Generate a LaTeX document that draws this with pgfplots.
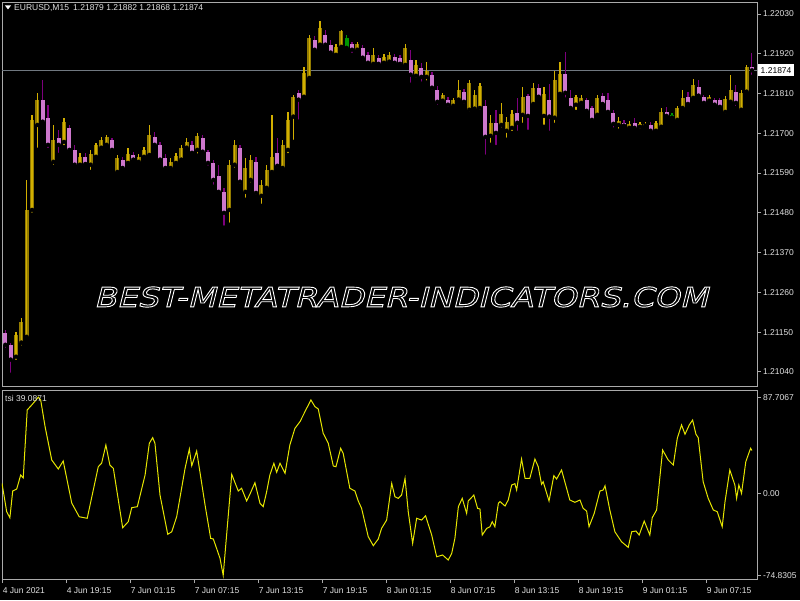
\documentclass[border=0pt]{standalone}
\usepackage{pgfplots}
\pgfplotsset{compat=1.18}
\usepackage{pgfplotstable}
\usepackage{fontspec}
\setmainfont{Liberation Sans}
\newfontfamily\wmfont[FakeSlant=0.25,FakeStretch=1.22]{DejaVu Sans}
\definecolor{framegray}{RGB}{170,170,170}
\definecolor{pricegray}{RGB}{112,120,128}
\definecolor{lblcolor}{RGB}{225,225,225}
\definecolor{bullbody}{RGB}{148,124,0}
\definecolor{bullwick}{RGB}{210,175,0}
\definecolor{bearbody}{RGB}{205,120,205}
\definecolor{bearwick}{RGB}{125,0,125}
\definecolor{greenc}{RGB}{0,150,0}
\definecolor{tsiyellow}{RGB}{230,230,0}
\newcommand\lbl{\fontsize{8.5}{10}\selectfont}

\pgfplotstableread{
x lo hi bl bh
5 1.21068 1.21151 1.21082 1.21143
7 1.21107 1.21190 1.21121 1.21179
9 1.21129 1.21571 1.21137 1.21488
11 1.21475 1.21751 1.21488 1.21737
13 1.21654 1.21812 1.21723 1.21793
19 1.21607 1.21723 1.21621 1.21682
23 1.21662 1.21743 1.21676 1.21732
29 1.21605 1.21646 1.21613 1.21635
33 1.21593 1.21654 1.21613 1.21643
35 1.21627 1.21674 1.21635 1.21668
37 1.21649 1.21690 1.21660 1.21682
39 1.21660 1.21696 1.21668 1.21690
43 1.21585 1.21640 1.21593 1.21632
47 1.21610 1.21660 1.21618 1.21643
51 1.21613 1.21643 1.21621 1.21635
53 1.21627 1.21662 1.21635 1.21654
55 1.21632 1.21723 1.21640 1.21696
63 1.21599 1.21632 1.21604 1.21621
65 1.21610 1.21646 1.21618 1.21638
67 1.21618 1.21668 1.21627 1.21660
69 1.21651 1.21687 1.21660 1.21676
73 1.21638 1.21701 1.21654 1.21693
85 1.21447 1.21627 1.21488 1.21613
87 1.21599 1.21682 1.21613 1.21668
91 1.21516 1.21632 1.21538 1.21604
93 1.21558 1.21640 1.21571 1.21627
97 1.21499 1.21571 1.21527 1.21558
99 1.21538 1.21613 1.21549 1.21599
101 1.21585 1.21751 1.21593 1.21635
105 1.21593 1.21682 1.21604 1.21668
107 1.21640 1.21759 1.21654 1.21737
109 1.21676 1.21806 1.21746 1.21801
113 1.21793 1.21884 1.21801 1.21867
115 1.21842 1.21972 1.21853 1.21964
119 1.21936 1.22011 1.21945 1.21992
125 1.21909 1.21947 1.21917 1.21939
127 1.21931 1.21986 1.21939 1.21983
133 1.21923 1.21953 1.21931 1.21947
139 1.21884 1.21936 1.21892 1.21917
143 1.21889 1.21920 1.21895 1.21911
145 1.21892 1.21925 1.21898 1.21917
151 1.21884 1.21947 1.21889 1.21936
155 1.21848 1.21903 1.21859 1.21889
159 1.21840 1.21898 1.21856 1.21873
165 1.21781 1.21812 1.21790 1.21806
169 1.21770 1.21798 1.21776 1.21793
171 1.21784 1.21848 1.21793 1.21820
175 1.21754 1.21848 1.21765 1.21840
177 1.21759 1.21820 1.21768 1.21806
179 1.21759 1.21840 1.21770 1.21831
183 1.21668 1.21751 1.21693 1.21729
187 1.21710 1.21784 1.21723 1.21754
189 1.21682 1.21746 1.21707 1.21732
191 1.21701 1.21765 1.21715 1.21754
195 1.21723 1.21828 1.21751 1.21801
199 1.21770 1.21840 1.21781 1.21826
203 1.21718 1.21828 1.21748 1.21809
207 1.21723 1.21873 1.21743 1.21848
209 1.21801 1.21898 1.21809 1.21865
215 1.21759 1.21806 1.21779 1.21801
217 1.21773 1.21806 1.21784 1.21798
223 1.21743 1.21806 1.21751 1.21798
231 1.21707 1.21746 1.21723 1.21734
235 1.21712 1.21734 1.21715 1.21726
239 1.21707 1.21732 1.21718 1.21726
241 1.21715 1.21732 1.21721 1.21726
245 1.21701 1.21734 1.21707 1.21729
247 1.21710 1.21770 1.21718 1.21759
253 1.21732 1.21776 1.21737 1.21770
255 1.21765 1.21820 1.21770 1.21798
259 1.21793 1.21851 1.21798 1.21834
265 1.21781 1.21806 1.21790 1.21801
271 1.21748 1.21804 1.21759 1.21795
273 1.21781 1.21862 1.21787 1.21820
277 1.21759 1.21820 1.21765 1.21812
279 1.21806 1.21889 1.21815 1.21884
}\bull

\pgfplotstableread{
x lo hi bl bh
1 1.21101 1.21157 1.21115 1.21148
3 1.21032 1.21121 1.21074 1.21115
15 1.21723 1.21848 1.21732 1.21793
17 1.21654 1.21779 1.21668 1.21743
21 1.21640 1.21710 1.21668 1.21687
25 1.21646 1.21723 1.21654 1.21715
27 1.21605 1.21668 1.21613 1.21654
31 1.21607 1.21646 1.21615 1.21635
41 1.21646 1.21687 1.21654 1.21682
45 1.21599 1.21635 1.21604 1.21627
49 1.21618 1.21649 1.21627 1.21640
57 1.21660 1.21704 1.21668 1.21690
59 1.21621 1.21676 1.21627 1.21668
61 1.21593 1.21643 1.21604 1.21632
71 1.21638 1.21679 1.21646 1.21668
75 1.21640 1.21696 1.21649 1.21687
77 1.21605 1.21654 1.21618 1.21649
79 1.21552 1.21627 1.21571 1.21618
81 1.21530 1.21613 1.21538 1.21582
83 1.21439 1.21549 1.21480 1.21538
89 1.21555 1.21668 1.21566 1.21660
95 1.21524 1.21635 1.21535 1.21621
103 1.21599 1.21687 1.21610 1.21646
111 1.21732 1.21820 1.21793 1.21812
117 1.21925 1.21970 1.21931 1.21958
121 1.21936 1.21986 1.21945 1.21972
123 1.21914 1.21958 1.21923 1.21945
131 1.21917 1.21953 1.21931 1.21947
135 1.21898 1.21945 1.21909 1.21936
137 1.21889 1.21925 1.21895 1.21917
141 1.21887 1.21917 1.21892 1.21909
147 1.21889 1.21920 1.21895 1.21911
149 1.21887 1.21917 1.21892 1.21909
153 1.21834 1.21931 1.21862 1.21903
157 1.21837 1.21895 1.21856 1.21881
161 1.21815 1.21870 1.21826 1.21862
163 1.21773 1.21831 1.21787 1.21820
167 1.21768 1.21801 1.21779 1.21793
173 1.21776 1.21823 1.21787 1.21815
181 1.21635 1.21793 1.21690 1.21776
185 1.21662 1.21765 1.21701 1.21729
193 1.21701 1.21798 1.21729 1.21757
197 1.21704 1.21809 1.21748 1.21804
201 1.21793 1.21837 1.21801 1.21826
205 1.21701 1.21837 1.21746 1.21793
211 1.21793 1.21925 1.21812 1.21865
213 1.21762 1.21820 1.21770 1.21798
219 1.21757 1.21798 1.21762 1.21793
221 1.21729 1.21776 1.21737 1.21770
225 1.21770 1.21812 1.21781 1.21804
227 1.21754 1.21812 1.21759 1.21793
229 1.21710 1.21765 1.21726 1.21757
233 1.21715 1.21737 1.21721 1.21729
237 1.21710 1.21743 1.21715 1.21729
243 1.21701 1.21732 1.21707 1.21723
249 1.21743 1.21773 1.21748 1.21759
257 1.21773 1.21815 1.21781 1.21801
261 1.21798 1.21848 1.21804 1.21828
263 1.21776 1.21806 1.21784 1.21801
267 1.21770 1.21798 1.21779 1.21793
269 1.21765 1.21798 1.21773 1.21793
275 1.21770 1.21834 1.21784 1.21815
281 1.21856 1.21922 1.21874 1.21884
}\bear

\pgfplotstableread{
x lo hi bl bh
129 1.21931 1.21972 1.21936 1.21964
251 1.21737 1.21757 1.21743 1.21751
}\greenc

\begin{document}
\begin{tikzpicture}[x=1pt,y=1pt]
\fill[black] (0,0) rectangle (800,600);

\begin{axis}[
  at={(2pt,214pt)}, anchor=south west,
  width=755pt, height=384pt, scale only axis,
  xmin=-0.26, xmax=282.9, ymin=1.21001, ymax=1.22063,
  axis line style={framegray, line width=0.8pt},
  xtick=\empty,
  ytick={1.2104,1.2115,1.2126,1.2137,1.2148,1.2159,1.2170,1.2181,1.2192,1.2203},
  yticklabels={1.21040,1.21150,1.21260,1.21370,1.21480,1.21590,1.21700,1.21810,1.21920,1.22030},
  scaled y ticks=false,
  ytick pos=right, yticklabel pos=right,
  tick align=outside, major tick length=4pt,
  tick style={framegray, line width=0.8pt},
  yticklabel style={font=\lbl, text=lblcolor, xshift=-1.5pt},
]
\addplot[pricegray, line width=0.9pt, forget plot] coordinates {(-0.26,1.21874) (282.9,1.21874)};
% bearish: wick then body
\addplot[only marks, mark=none, forget plot,
  error bars/.cd, y dir=plus, y explicit, error mark=none,
  error bar style={line width=1.1pt, draw=bearwick}]
  table[x=x, y=lo, y error plus expr=\thisrow{hi}-\thisrow{lo}] {\bear};
\addplot[only marks, mark=none, forget plot,
  error bars/.cd, y dir=plus, y explicit, error mark=none,
  error bar style={line width=4.2pt, draw=bearbody}]
  table[x=x, y=bl, y error plus expr=\thisrow{bh}-\thisrow{bl}] {\bear};
% bullish: body then wick
\addplot[only marks, mark=none, forget plot,
  error bars/.cd, y dir=plus, y explicit, error mark=none,
  error bar style={line width=4.2pt, draw=bullbody}]
  table[x=x, y=bl, y error plus expr=\thisrow{bh}-\thisrow{bl}] {\bull};
\addplot[only marks, mark=none, forget plot,
  error bars/.cd, y dir=plus, y explicit, error mark=none,
  error bar style={line width=1.1pt, draw=bullwick}]
  table[x=x, y=lo, y error plus expr=\thisrow{hi}-\thisrow{lo}] {\bull};
% green
\addplot[only marks, mark=none, forget plot,
  error bars/.cd, y dir=plus, y explicit, error mark=none,
  error bar style={line width=1.1pt, draw=greenc}]
  table[x=x, y=lo, y error plus expr=\thisrow{hi}-\thisrow{lo}] {\greenc};
\addplot[only marks, mark=none, forget plot,
  error bars/.cd, y dir=plus, y explicit, error mark=none,
  error bar style={line width=4.2pt, draw=greenc}]
  table[x=x, y=bl, y error plus expr=\thisrow{bh}-\thisrow{bl}] {\greenc};
\coordinate (pl) at (axis cs:282.9,1.21874);
\end{axis}

\begin{axis}[
  at={(2pt,21pt)}, anchor=south west,
  width=755pt, height=189pt, scale only axis,
  xmin=-0.26, xmax=282.9, ymin=-78.2, ymax=94.3,
  axis line style={framegray, line width=0.8pt},
  xtick={0,24,48,72,96,120,144,168,192,216,240,264},
  xticklabels={4 Jun 2021,4 Jun 19:15,7 Jun 01:15,7 Jun 07:15,7 Jun 13:15,7 Jun 19:15,8 Jun 01:15,8 Jun 07:15,8 Jun 13:15,8 Jun 19:15,9 Jun 01:15,9 Jun 07:15},
  xtick pos=bottom,
  xticklabel style={font=\lbl, text=lblcolor, anchor=north west, inner xsep=0pt, yshift=-1pt},
  ytick={-74.8305,0,87.7067},
  yticklabels={-74.8305,0.00,87.7067},
  scaled y ticks=false,
  ytick pos=right, yticklabel pos=right,
  tick align=outside, major tick length=4pt,
  tick style={framegray, line width=0.8pt},
  yticklabel style={font=\lbl, text=lblcolor, xshift=-1.5pt},
]
\addplot[tsiyellow, line width=1pt] coordinates {
(-0.26,9.1) (1.5,-16.8) (2.7,-22.3) (3.75,2.1) (5.25,3.9) (6.75,16.7) (7.7,14.0)
(9.2,76.1) (10.9,80.6) (13.35,87.7) (14.25,85.2) (15.9,60.8) (18.4,30.4) (20.85,22.2)
(22.7,29.5) (25.9,-8.9) (28.7,-21.4) (31.7,-22.8) (35.85,24.3) (37.1,27.4) (38.7,44.1)
(40.2,25.8) (41.5,22.8) (45,-31.4) (47.1,-25.9) (48.4,-13.1) (50.5,-12.2) (53.4,16.7)
(55,45.7) (56.25,50.8) (57.1,45.7) (59,-1.6) (61.9,-37.4) (63.4,-35.1) (65.25,-21.4)
(68.4,22.8) (70,40.4) (70.9,25.2) (72.75,38.6) (75.9,-10.7) (78,-41.1) (79,-41.7)
(81.5,-59.3) (82.7,-74.83) (85.9,17.3) (88.35,2.1) (89.6,4.6) (91.5,-7.0) (92.7,-0.9)
(94.6,9.7) (96.5,-9.1) (97.7,-12.2) (99,1.5) (100.2,16.7) (101.7,27.4) (102.75,19.2)
(104,27.4) (105.9,18.3) (107.7,44.1) (109.6,59.3) (111.5,65.4) (114,77.6) (115.6,85.2)
(117.1,79.1) (118.35,77.0) (120.2,54.8) (122.1,45.7) (124,24.9) (125,24.3) (126.75,41.1)
(127.7,36.5) (130.2,4.6) (132.1,2.1) (133.35,-7.0) (134.6,-13.7) (137.1,-39.6) (139,-47.8)
(140.85,-41.7) (142.1,-32.0) (144,-24.4) (145.9,9.1) (147.1,-3.1) (148.35,-4.6) (149.6,-1.6)
(150.9,13.7) (152.1,-16.8) (153.75,-45.7) (155.25,-22.8) (157.1,-24.4) (158.6,-20.5)
(160.9,-38.1) (162.75,-57.9) (165,-56.3) (167.1,-60.9) (168.4,-54.8) (169.6,-41.1)
(170.9,-12.2) (172.35,-4.6) (174,-18.3) (174.6,-7.0) (176.7,-1.6) (178.1,-13.7) (179,-14.3)
(179.85,-38.1) (181.5,-32.0) (182.75,-30.5) (183.6,-25.9) (184.6,-30.5) (185.9,-9.1)
(186.5,-7.5) (188.4,-11.6) (189.6,-6.1) (190.9,7.6) (192.1,8.8) (192.75,3.0) (194.6,31.3)
(195.9,13.7) (197.7,13.7) (199.6,31.3) (200.85,24.3) (202.1,8.2) (202.7,10.6) (204.9,-7.0)
(206.7,16.1) (207.75,13.1) (209.6,21.3) (212.7,-6.1) (214.6,-8.2) (216.5,-6.1) (217.7,-13.7)
(219,-16.2) (219.9,-30.5) (221.85,-18.3) (224,2.1) (225.2,3.0) (225.9,6.9) (227.7,-15.2)
(229.6,-35.1) (232.1,-44.2) (234.6,-49.3) (235.9,-35.1) (237.5,-34.4) (238.7,-38.1)
(240.6,-25.3) (242.7,-38.1) (243.6,-22.3) (245.25,-15.2) (247.5,39.5) (249.6,30.4)
(251.5,25.8) (253,50.2) (254.6,62.4) (255.9,53.9) (257.5,62.4) (258.75,66.9) (260,53.9)
(260.85,50.8) (262.7,10.6) (264.6,-4.6) (266.5,-15.2) (268,-16.8) (269.85,-30.5)
(270.9,-7.7) (272.7,21.3) (274.6,7.6) (275.25,-4.6) (276.1,7.6) (277.1,0) (278.7,28.9)
(280.5,41.1) (281,39.09)
};
\end{axis}

% current price label
\node[fill=white, text=black, font=\lbl, anchor=west, inner xsep=2.5pt, inner ysep=3pt, xshift=1pt] at (pl) {1.21874};
% header
\fill[white] (5,594.5) -- (11,594.5) -- (8,590.5) -- cycle;
\node[font=\lbl, text=lblcolor, anchor=west, inner sep=0pt] at (14,592) {EURUSD,M15\enspace 1.21879 1.21882 1.21868 1.21874};
\node[font=\lbl, text=lblcolor, anchor=west, inner sep=0pt] at (5,202) {tsi 39.0871};
% watermark
\node[text=white, inner sep=0pt] at (401,303) {\wmfont\fontsize{27}{27}\selectfont\special{pdf:literal direct 1 Tr 0.9 w}BEST-METATRADER-INDICATORS.COM\special{pdf:literal direct 0 Tr}};
\end{tikzpicture}
\end{document}
